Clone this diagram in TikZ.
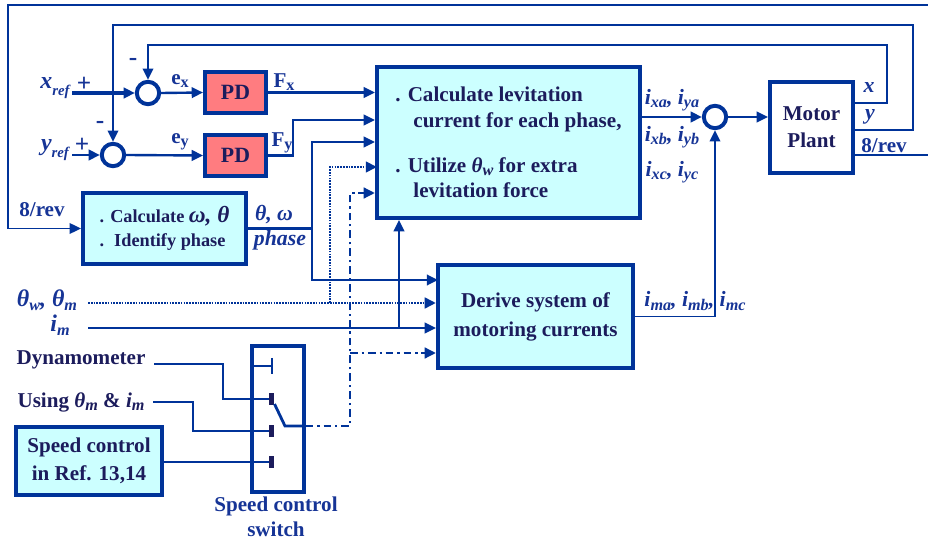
\documentclass[tikz,border=0pt]{standalone}
\usepackage{fontspec}
\setmainfont{Liberation Serif}
\usetikzlibrary{arrows.meta,positioning,calc}
\definecolor{lineblue}{RGB}{0,51,153}
\definecolor{labblue}{RGB}{22,52,150}
\definecolor{navy}{RGB}{28,28,92}
\definecolor{boxcyan}{RGB}{204,255,255}
\definecolor{pdred}{RGB}{255,124,128}
\newcommand{\lo}[1]{\raisebox{-0.35ex}{\fontsize{11.5}{11}\selectfont #1}}
\newcommand{\lowr}[1]{\raisebox{-0.7ex}{\fontsize{10.5}{10}\selectfont #1}}

\begin{document}
\begin{tikzpicture}[x=0.025cm, y=-0.025cm,
  box/.style={draw=lineblue, line width=2.9pt, fill=boxcyan, text=navy, align=center, font=\fontsize{15}{18}\selectfont\bfseries, inner sep=0pt},
  pd/.style={box, fill=pdred, minimum width=1.525cm, minimum height=1.025cm, font=\fontsize{15.5}{18}\selectfont\bfseries},
  sum/.style={draw=lineblue, line width=2.8pt, circle, minimum size=0.56cm, inner sep=0pt},
  arr/.style={-{Triangle[length=8pt,width=7.5pt]}, draw=lineblue, line width=1.7pt},
  fb/.style={draw=lineblue, line width=1.1pt},
  lab/.style={text=labblue, font=\fontsize{15.5}{17}\selectfont\bfseries\itshape, inner sep=0pt},
  tag/.style={text=labblue, font=\fontsize{15}{17}\selectfont\bfseries, inner sep=0pt},
  sgn/.style={text=labblue, font=\fontsize{18}{18}\selectfont\bfseries, inner sep=0pt},
  blk/.style={text=navy, font=\fontsize{15}{17}\selectfont\bfseries, inner sep=0pt},
  contact/.style={fill=navy, minimum width=0.13cm, minimum height=0.28cm, inner sep=0pt},
  dots/.style={line width=2pt, dash pattern=on 1.2pt off 0.8pt},
  dashdotline/.style={line width=1.9pt, dash pattern=on 5.5pt off 2.8pt on 1.6pt off 2.8pt},
]
\useasboundingbox (0,0) rectangle (928,544);

% blocks
\node[sum] (sx) at (148,93) {};
\node[sum] (sy) at (113,155) {};
\node[pd] (pdx) at (235.5,92.5) {PD};
\node[pd] (pdy) at (235.5,155.5) {PD};
\node[box, minimum width=6.575cm, minimum height=3.775cm, align=left] (lev) at (508.5,142.5)
  {. Calculate levitation\\\hspace{0.85em}current for each phase,\\[14pt]. Utilize {\itshape θ\lo{w}} for extra\\\hspace{0.85em}levitation force};
\node[box, minimum width=4.075cm, minimum height=1.775cm, align=left, font=\fontsize{13}{17.5}\selectfont\bfseries] (calc) at (164.5,228.5)
  {. Calculate {\itshape\fontsize{16.5}{17}\selectfont ω, θ}\\.\hspace{0.55em}Identify phase};
\node[box, minimum width=4.875cm, minimum height=2.575cm, font=\fontsize{15}{20.5}\selectfont\bfseries] (der) at (535.5,316.5) {Derive system of\\motoring currents};
\node[sum] (so) at (715,117) {};
\node[box, fill=white, minimum width=2.075cm, minimum height=2.275cm, font=\fontsize{15}{19}\selectfont\bfseries] (plant) at (811.5,127.5) {Motor\\Plant};
\node[box, minimum width=3.65cm, minimum height=1.7cm, font=\fontsize{15}{19.5}\selectfont\bfseries] (spd) at (89,461) {Speed control\\in Ref. 13,14};
\node[draw=lineblue, line width=2.4pt, minimum width=1.3cm, minimum height=3.65cm, inner sep=0pt] (sw) at (278,419) {};

% labels
\node[lab, font=\fontsize{17}{17}\selectfont\bfseries\itshape] (xref) at (55,88) {x\lowr{ref}};
\node[lab, font=\fontsize{17}{17}\selectfont\bfseries\itshape] (yref) at (55,150) {y\lowr{ref}};
\node[sgn] (pxs) at (84,84) {+};
\node[sgn] (pys) at (82,145) {+};
\node[sgn] (mxs) at (133,62) {-};
\node[sgn] (mys) at (100,125) {-};
\node[tag] (exl) at (180,81) {e\lo{x}};
\node[tag] (eyl) at (180,142) {e\lo{y}};
\node[tag] (fxl) at (284,82) {F\lo{x}};
\node[tag] (fyl) at (282,143) {F\lo{y}};
\node[tag] (rvl) at (42,210) {8/rev};
\node[lab] (twl) at (274,215) {θ, ω};
\node[lab] (phl) at (280,240) {phase};
\node[lab, font=\fontsize{17}{17}\selectfont\bfseries\itshape] (thl) at (47,300) {θ\lo{w}, θ\lo{m}};
\node[lab, font=\fontsize{17}{17}\selectfont\bfseries\itshape] (iml) at (60,325) {i\lo{m}};
\node[lab] (ial) at (672,100) {i\lo{xa}, i\lo{ya}};
\node[lab] (ibl) at (672,137) {i\lo{xb}, i\lo{yb}};
\node[lab] (icl) at (672,172) {i\lo{xc}, i\lo{yc}};
\node[lab] (iml2) at (695,301) {i\lo{ma}, i\lo{mb}, i\lo{mc}};
\node[lab] (xol) at (869,88) {x};
\node[lab] (yol) at (870,117) {y};
\node[tag] (rvo) at (884,146) {8/rev};
\node[blk] (dyn) at (81,360) {Dynamometer};
\node[blk] (use) at (81,402) {Using {\itshape θ\lo{m}} \& {\itshape i\lo{m}}};
\node[tag, align=center, font=\fontsize{15}{17.7}\selectfont\bfseries] (swl) at (276,517) {Speed control\\switch};

% coordinates
\coordinate (xin) at (72,93);
\coordinate (yin) at (72,155);
\coordinate (fyb) at (293,120);
\coordinate (phb) at (312,142);
\coordinate (d1) at (438,280);
\coordinate (thin) at (88,303);
\coordinate (tb) at (330,303);
\coordinate (l4) at (377,167);
\coordinate (imin) at (88,328);
\coordinate (imb) at (399,328);
\coordinate (arm) at (285,426);
\coordinate (l5b) at (350,193);
\coordinate (ddb) at (350,353);
\coordinate (px) at (853,103);
\coordinate (xtop) at (887,45);
\coordinate (py) at (853,130);
\coordinate (ytop) at (913,25);
\coordinate (pr) at (853,155);
\coordinate (rtop) at (945,5);
\coordinate (lft) at (8,228.5);
\coordinate (c0) at (272,366);
\coordinate (dyb) at (223,399);
\coordinate (usb) at (193,431);

% connectors
\draw[arr, line width=2.3pt] (xin) -- (sx.west);
\draw[arr] (yin) -- (sy.west);
\draw[arr] (sx.east) -- (pdx.west);
\draw[arr] (sy.east) -- (pdy.west);
\draw[arr] (pdx.east) -- (lev.west |- pdx.east);
\draw[arr] (pdy.east) -| (fyb) -- (lev.west |- fyb);
\draw[arr] (calc.east) -| (phb) -- (lev.west |- phb);
\draw[arr] (calc.east -| phb) |- (d1);
\draw[arr, dots] (thin) -- (der.west |- thin);
\draw[arr, dots] (tb) |- (l4);
\draw[arr] (imin) -- (der.west |- imin);
\draw[arr] (imb) -- (lev.south -| imb);
\draw[arr, dashdotline] (sw.east |- arm) -| (l5b) -- (lev.west |- l5b);
\draw[arr, dashdotline] (ddb) -- (der.west |- ddb);
\draw[arr] (lev.east |- so) -- (so.west);
\draw[arr, line width=1.4pt] (der.east) -| (so.south);
\draw[arr] (so.east) -- (plant.west |- so);
\draw[arr, line width=1.2pt] (px) -| (xtop) -| (sx.north);
\draw[arr, line width=1.2pt] (py) -| (ytop) -| (sy.north);
\draw[arr, line width=1.2pt] (pr) -| (rtop) -| (lft) -- (calc.west);

% switch
\foreach \n/\yy in {1/399,2/431,3/462}
  \node[contact] (c\n) at (271.5,\yy) {};
\draw[lineblue, line width=2pt] (sw.west |- c0) -- (c0);
\draw[lineblue, line width=2pt] ($(c0)+(0,-8)$) -- ($(c0)+(0,8)$);
\draw[lineblue, line width=2pt] ($(c1)+(3,5)$) -- (arm) -- (sw.east |- arm);
\draw[fb] ([xshift=6pt,yshift=-3pt]dyn.east) -| (dyb) -- (c1.west);
\draw[fb] ([xshift=6pt]use.east) -| (usb) -- (c2.west);
\draw[fb] (spd.east |- c3) -- (c3.west);
\end{tikzpicture}
\end{document}
